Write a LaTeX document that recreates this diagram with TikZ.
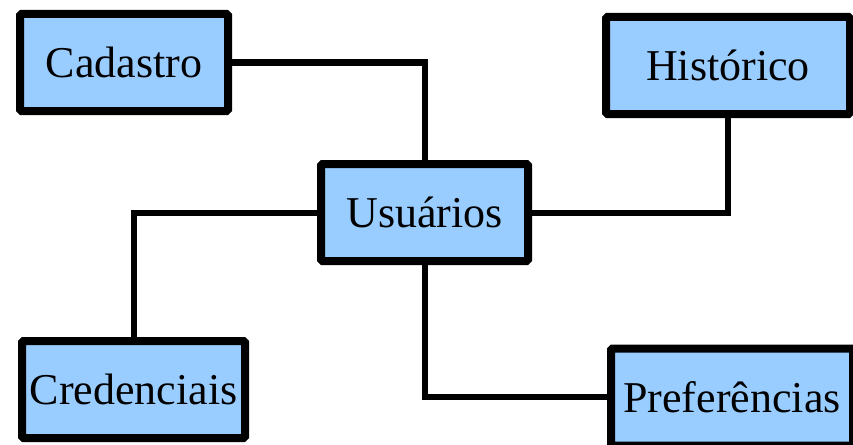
\documentclass[tikz,border=0pt]{standalone}
\usepackage{fontspec}
\setmainfont{Liberation Serif}
\usepackage{tikz}
\usetikzlibrary{positioning}
\definecolor{boxblue}{RGB}{153,204,255}
\tikzset{box/.style={draw,line width=8pt,fill=boxblue,rounded corners=1.5pt,align=center,minimum height=97pt,inner sep=0pt,font=\fontsize{44}{52}\selectfont},
  link/.style={line width=6pt}}

\begin{document}
\begin{tikzpicture}[x=1pt,y=-1pt]
 \clip (0,0) rectangle (853,444);
 \useasboundingbox (0,0) rectangle (853,444);
 \node[box,minimum width=208pt] (cad) at (124,62.5) {Cadastro};
 \node[box,minimum width=244pt] (hist) at (728,65.5) {Histórico};
 \node[box,minimum width=207pt] (usu) at (424.5,212.5) {Usuários};
 \node[box,minimum width=223pt] (cred) at (133.5,389.5) {Credenciais};
 \node[box,minimum width=242pt] (pref) at (732,397) {Preferências};
 % ligacoes
 \draw[link] (cad.east) -| (usu.north);
 \draw[link] (hist.south) |- (usu.east);
 \draw[link] (cred.north) |- (usu.west);
 \draw[link] (usu.south) |- (pref.west);
\end{tikzpicture}
\end{document}
